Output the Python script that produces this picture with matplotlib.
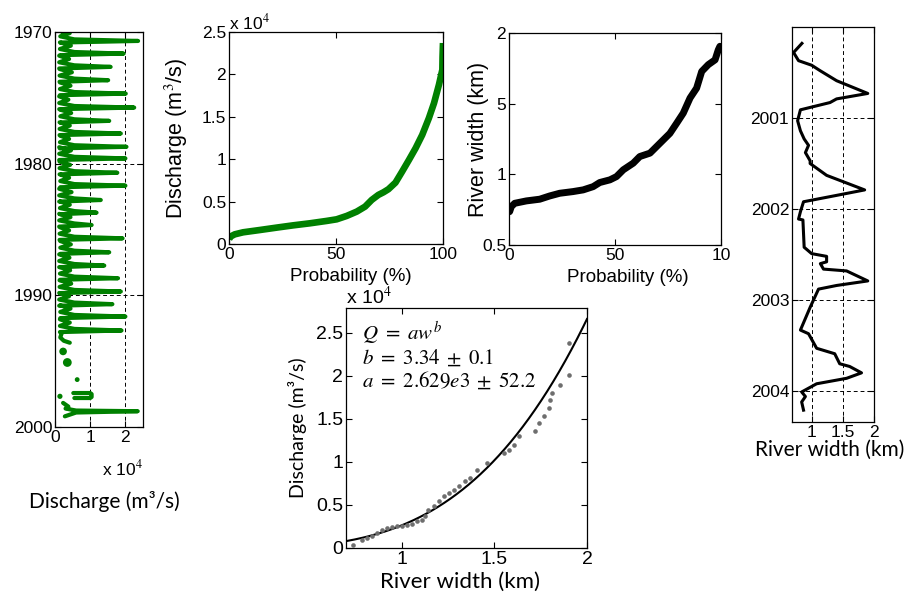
#!/usr/bin/env python3
"""Discharge / river width panels: time series, exceedance curves and rating fit."""

import numpy as np
import matplotlib
matplotlib.use("Agg")
import matplotlib.pyplot as plt

# ---- panel 1: discharge time series (x 1e4 m3/s), annual flood peaks
PEAK_T = [1970.68, 1971.64, 1972.65, 1973.66, 1974.68, 1975.74, 1976.75, 1977.71,
          1978.72, 1979.60, 1980.69, 1981.67, 1982.76, 1983.72, 1984.66, 1985.67,
          1986.73, 1987.74, 1988.70, 1989.71, 1990.67, 1991.61, 1992.67]
PEAK_Q = [2.36, 1.95, 1.58, 1.51, 2.01, 2.25, 1.54, 1.87, 2.03, 2.00, 1.77, 2.00,
          1.30, 1.18, 1.04, 1.92, 1.54, 1.40, 1.79, 1.87, 1.63, 2.00, 1.89]
LOW_Q = [0.15, 0.14, 0.12, 0.13, 0.14, 0.12, 0.15, 0.13, 0.14, 0.12, 0.13, 0.15,
         0.12, 0.14, 0.12, 0.13, 0.15, 0.12, 0.14, 0.13, 0.12, 0.15, 0.14]
BUMP_Q = [0.42, 0.45, 0.40, 0.48, 0.44, 0.38, 0.46, 0.42, 0.40, 0.45, 0.43, 0.40,
          0.47, 0.42, 0.44, 0.40, 0.45, 0.41, 0.43, 0.46, 0.40, 0.44, 0.42]
TAIL_T = [1992.79, 1993.20, 1993.45, 1993.60]
TAIL_Q = [0.20, 0.15, 0.25, 0.42]
LOOP_T = [1997.42, 1997.42, 1997.50, 1997.72, 1997.80, 1997.80]
LOOP_Q = [0.52, 1.00, 1.04, 1.04, 1.00, 0.55]
LAST_T = [1998.17, 1998.45, 1998.60, 1998.75, 1998.80, 1998.90, 1999.19]
LAST_Q = [0.23, 0.38, 0.30, 0.60, 2.35, 0.60, 0.28]
DOT_T = [1994.26, 1995.10, 1996.40, 1997.67]
DOT_Q = [0.23, 0.35, 0.63, 0.14]
DOT_S = [30, 40, 12, 14]

# ---- panel 2: discharge exceedance curve (x 1e4 m3/s)
PROB_Q = [0.0, 0.6, 2.7, 6.6, 14.4, 22.2, 30.0, 37.8, 45.6, 50.3, 55.0, 59.7, 63.6,
          66.7, 69.8, 72.2, 74.5, 77.8, 80.9, 84.1, 87.2, 90.3, 93.4, 95.8, 98.1,
          99.7, 99.8, 100.0]
CURVE_Q = [0.055, 0.087, 0.114, 0.138, 0.165, 0.193, 0.220, 0.244, 0.272, 0.291,
           0.331, 0.382, 0.441, 0.520, 0.579, 0.610, 0.646, 0.724, 0.854, 0.992,
           1.130, 1.287, 1.484, 1.661, 1.878, 2.055, 2.210, 2.370]

# ---- panel 3: river width exceedance curve (km)
PROB_W = [0.3, 1.1, 2.7, 8.2, 14.5, 19.2, 23.9, 30.2, 35.0, 39.7, 42.8, 47.6, 50.7,
          53.9, 58.6, 61.7, 66.5, 71.2, 75.9, 79.1, 82.2, 85.4, 88.5, 90.9, 94.0,
          97.2, 98.7, 99.5]
CURVE_W = [0.736, 0.772, 0.795, 0.812, 0.824, 0.847, 0.866, 0.878, 0.890, 0.913,
           0.942, 0.961, 0.984, 1.032, 1.079, 1.126, 1.150, 1.220, 1.290, 1.362,
           1.433, 1.540, 1.610, 1.728, 1.776, 1.810, 1.880, 1.906]
WIDTH_TICKS = [0.5, 1.0, 1.5, 2.0]
WIDTH_TICK_LABELS = ["0.5", "1", "5", "2"]
PROB_TICK_LABELS = ["0", "50", "10"]

# ---- panel 4: river width time series
WIDTH_T = [2000.18, 2000.28, 2000.37, 2000.42, 2000.48, 2000.59, 2000.73, 2000.79,
           2000.83, 2000.91, 2001.03, 2001.14, 2001.23, 2001.30, 2001.38, 2001.47,
           2001.50, 2001.63, 2001.79, 2001.85, 2001.92, 2002.03, 2002.11, 2002.12,
           2002.27, 2002.42, 2002.49, 2002.52, 2002.58, 2002.60, 2002.66, 2002.68,
           2002.79, 2002.84, 2002.88, 2003.08, 2003.33, 2003.37, 2003.53, 2003.59,
           2003.70, 2003.73, 2003.80, 2003.86, 2003.92, 2004.01, 2004.06, 2004.12,
           2004.21]
WIDTH_W = [0.844, 0.71, 0.79, 1.0, 1.136, 1.40, 1.90, 1.40, 1.295, 0.82, 0.775,
           0.82, 0.88, 0.95, 0.90, 0.976, 0.976, 1.24, 1.85, 1.40, 0.87, 0.82, 0.79,
           0.86, 0.87, 0.88, 1.0, 1.24, 1.24, 1.14, 1.19, 1.56, 1.90, 1.40, 1.11,
           0.976, 0.82, 0.95, 1.08, 1.37, 1.45, 1.61, 1.80, 1.56, 1.08, 0.84, 0.90,
           0.84, 0.87]

# ---- panel 5: rating curve, Q = a w^b
SCAT_W = [0.736, 0.785, 0.812, 0.839, 0.866, 0.893, 0.92, 0.947, 0.974, 1.0, 1.028,
          1.055, 1.082, 1.109, 1.127, 1.145, 1.172, 1.199, 1.226, 1.253, 1.28, 1.307,
          1.343, 1.37, 1.406, 1.46, 1.55, 1.577, 1.605, 1.632, 1.72, 1.74, 1.767,
          1.794, 1.803, 1.812, 1.857, 1.902, 1.902]
SCAT_Q = [0.039, 0.097, 0.116, 0.136, 0.174, 0.213, 0.233, 0.244, 0.252, 0.26, 0.271,
          0.283, 0.31, 0.329, 0.368, 0.446, 0.484, 0.543, 0.601, 0.64, 0.678, 0.717,
          0.775, 0.814, 0.911, 0.988, 1.105, 1.143, 1.20, 1.30, 1.357, 1.453, 1.531,
          1.628, 1.725, 1.80, 1.90, 2.015, 2.38]
A_FIT = 2.629e3
B_FIT = 3.34

GREEN = "#008000"
TICK_FONT = "Liberation Sans"
LABEL_FONT = "Lato"

plt.rcParams["font.family"] = TICK_FONT
plt.rcParams["font.size"] = 12.5
plt.rcParams["mathtext.fontset"] = "stix"
plt.rcParams["axes.linewidth"] = 0.9


def style(ax, size=12.5):
    ax.tick_params(direction="in", top=True, right=True, length=4, width=0.8,
                   pad=2, labelsize=size)


def grid(ax):
    ax.grid(True, linestyle=(0, (4, 3)), color="black", linewidth=0.7)


fig = plt.figure(figsize=(9.17, 6.03), dpi=100)
W, H = 917.0, 603.0


def place(left, top, right, bottom):
    return fig.add_axes([left / W, 1 - bottom / H, (right - left) / W, (bottom - top) / H])


# panel 1
ax1 = place(55, 32, 143, 427)
t, q = [1970.0], [0.2]
for pt, pq, lo, bu in zip(PEAK_T, PEAK_Q, LOW_Q, BUMP_Q):
    t += [pt - 0.85, pt - 0.6, pt - 0.35, pt - 0.12, pt, pt + 0.12]
    q += [lo, bu, lo, 0.55, pq, lo]
t += TAIL_T + [np.nan] + LOOP_T + [np.nan] + LAST_T
q += TAIL_Q + [np.nan] + LOOP_Q + [np.nan] + LAST_Q
ax1.plot(q, t, color=GREEN, lw=3.0, solid_joinstyle="round", solid_capstyle="round")
ax1.scatter(DOT_Q, DOT_T, s=DOT_S, color=GREEN, lw=0)
ax1.set_xlim(0, 2.5)
ax1.set_ylim(2000, 1970)
ax1.set_xticks([0, 1, 2])
ax1.set_yticks([1970, 1980, 1990, 2000])
style(ax1)
grid(ax1)
ax1.text(0.53, -0.105, r"x 10$^{4}$", transform=ax1.transAxes, ha="left", va="center",
         fontsize=12.5)
fig.text(104 / W, 1 - 502 / H, "Discharge (m³/s)", ha="center", va="center",
         family=LABEL_FONT, fontsize=15)

# panel 2
ax2 = place(229, 32, 443, 244)
ax2.plot(PROB_Q, CURVE_Q, color=GREEN, lw=4.8, solid_capstyle="butt",
         solid_joinstyle="round")
ax2.set_xlim(0, 100)
ax2.set_ylim(0, 2.5)
ax2.set_xticks([0, 50, 100])
ax2.set_yticks([0, 0.5, 1, 1.5, 2, 2.5])
ax2.set_yticklabels(["0", "0.5", "1", "1.5", "2", "2.5"])
style(ax2)
ax2.text(0.0, 1.0, r"x 10$^{4}$", transform=ax2.transAxes, ha="left", va="bottom",
         fontsize=12.5)
ax2.set_ylabel("Discharge (m$^3$/s)", fontsize=15.5)
ax2.yaxis.set_label_coords(-0.18, 0.5)
ax2.set_xlabel("Probability (%)", fontsize=13.5)
ax2.xaxis.set_label_coords(0.57, -0.115)

# panel 3
ax3 = place(509, 33, 721, 245)
ax3.plot(PROB_W, CURVE_W, color="black", lw=5, solid_capstyle="round",
         solid_joinstyle="round")
ax3.set_xlim(0, 100)
ax3.set_ylim(0.5, 2.0)
ax3.set_xticks([0, 50, 100])
ax3.set_xticklabels(PROB_TICK_LABELS)
ax3.set_yticks(WIDTH_TICKS)
ax3.set_yticklabels(WIDTH_TICK_LABELS)
style(ax3)
ax3.set_ylabel("River width (km)", fontsize=15.5)
ax3.yaxis.set_label_coords(-0.095, 0.5)
ax3.set_xlabel("Probability (%)", fontsize=13.5)
ax3.xaxis.set_label_coords(0.56, -0.115)

# panel 4
ax4 = place(792, 27, 874, 422)
ax4.plot(WIDTH_W, WIDTH_T, color="black", lw=2.2, solid_joinstyle="round")
ax4.set_xlim(0.685, 2.0)
ax4.set_ylim(2004.34, 2000.0)
ax4.set_xticks([1, 1.5, 2])
ax4.set_xticklabels(["1", "1.5", "2"])
ax4.set_yticks([2001, 2002, 2003, 2004])
style(ax4)
grid(ax4)
fig.text(830 / W, 1 - 450 / H, "River width (km)", ha="center", va="center",
         family=LABEL_FONT, fontsize=15)

# panel 5
ax5 = place(346, 308, 587, 548)
wf = np.linspace(0.7, 2.0, 200)
ax5.plot(wf, A_FIT * wf ** B_FIT / 1e4, color="black", lw=1.5)
ax5.scatter(SCAT_W, SCAT_Q, s=11, color="#6e6e6e", lw=0, zorder=3)
ax5.set_xlim(0.7, 2.0)
ax5.set_ylim(0, 2.79)
ax5.set_xticks([1, 1.5, 2])
ax5.set_xticklabels(["1", "1.5", "2"])
ax5.set_yticks([0, 0.5, 1, 1.5, 2, 2.5])
ax5.set_yticklabels(["0", "0.5", "1", "1.5", "2", "2.5"])
style(ax5, 14)
ax5.text(0.0, 1.0, r"x 10$^{4}$", transform=ax5.transAxes, ha="left", va="bottom",
         fontsize=14)
ax5.text(0.065, 0.955,
         "$Q\\ =\\ aw^{b}$\n$b\\ =\\ 3.34\\;\\pm\\;0.1$\n$a\\ =\\ 2.629e3\\;\\pm\\;52.2$",
         transform=ax5.transAxes, ha="left", va="top", fontsize=15, linespacing=1.1)
ax5.set_ylabel("Discharge (m³/s)", family=LABEL_FONT, fontsize=14)
ax5.yaxis.set_label_coords(-0.16, 0.5)
ax5.set_xlabel("River width (km)", family=LABEL_FONT, fontsize=16)
ax5.xaxis.set_label_coords(0.475, -0.10)

fig.savefig("out.png", dpi=100)
